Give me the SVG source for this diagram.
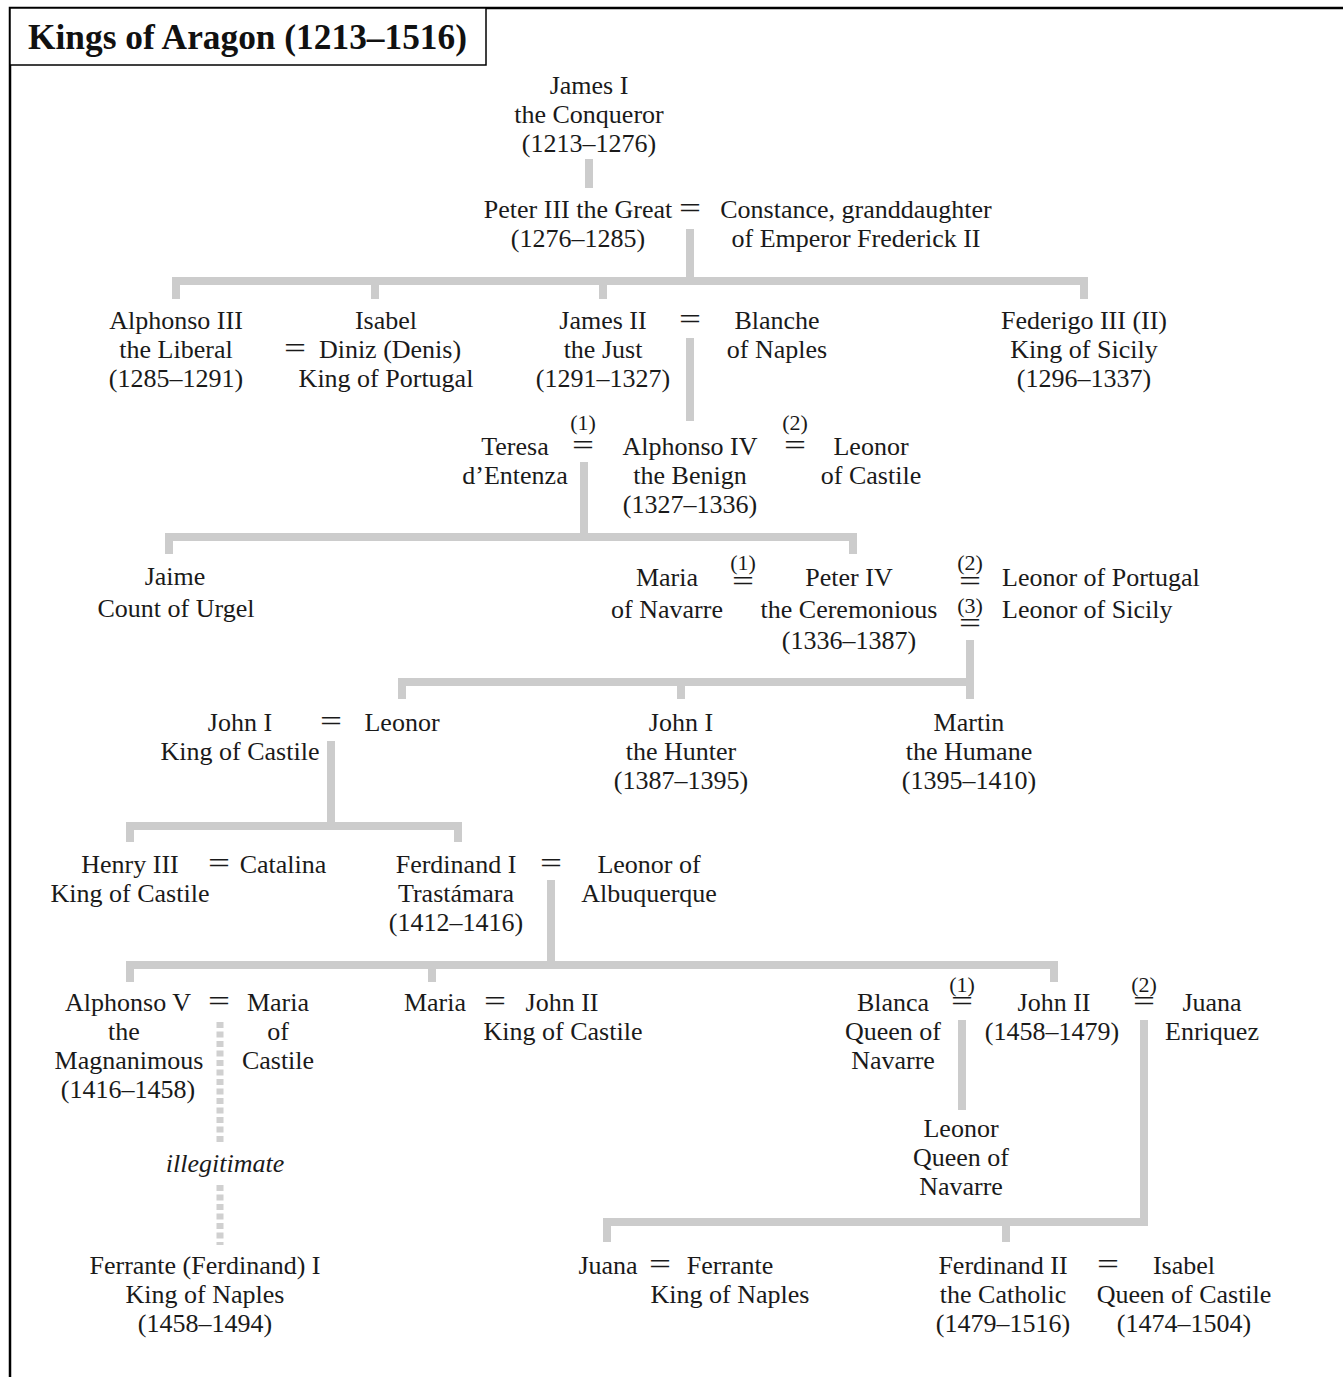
<svg xmlns="http://www.w3.org/2000/svg" width="1343" height="1377" viewBox="0 0 1343 1377">
<style>
.t{font-family:"Liberation Serif",serif;font-size:26px;fill:#1a1a1a;text-anchor:middle}
.l{text-anchor:start}
.eq{font-family:"Liberation Serif",serif;font-size:30px;fill:#1a1a1a;text-anchor:middle}
.n{font-family:"Liberation Serif",serif;font-size:22px;fill:#1a1a1a;text-anchor:middle}
.it{font-style:italic}
.c{fill:none;stroke:#cccccc;stroke-width:8;stroke-linecap:butt;stroke-linejoin:miter}
.d{fill:none;stroke:#d0d0d0;stroke-width:7;stroke-dasharray:6 3.5}
</style>
<rect width="1343" height="1377" fill="#ffffff"/>
<g id="frame">
<path d="M10 1377 V8 H1343" fill="none" stroke="#000" stroke-width="2.5"/>
<rect x="10" y="8" width="476" height="57" fill="#fff" stroke="#000" stroke-width="1.5"/>
<text x="28" y="49" font-family="Liberation Serif,serif" font-size="35" font-weight="bold" fill="#111" textLength="439" lengthAdjust="spacingAndGlyphs">Kings of Aragon (1213–1516)</text>
</g>
<g id="connectors">
<path class="c" d="M589 159 V188"/>
<path class="c" d="M690 229 V281"/>
<path class="c" d="M176 299 V281 H1084 V299"/>
<path class="c" d="M375 281 V299"/>
<path class="c" d="M603 281 V299"/>
<path class="c" d="M690 338 V421"/>
<path class="c" d="M584 462 V537"/>
<path class="c" d="M169 554 V537 H853 V554"/>
<path class="c" d="M970 640 V699"/>
<path class="c" d="M402 699 V682 H970"/>
<path class="c" d="M681 682 V699"/>
<path class="c" d="M331 741 V826"/>
<path class="c" d="M130 842 V826 H458 V842"/>
<path class="c" d="M551 880 V965"/>
<path class="c" d="M130 982 V965 H1054 V982"/>
<path class="c" d="M432 965 V982"/>
<path class="c" d="M962 1020 V1110"/>
<path class="c" d="M1144 1020 V1222 H607 V1242"/>
<path class="c" d="M1006 1222 V1242"/>
<path class="d" d="M220 1022 V1143"/>
<path class="d" d="M220 1185 V1245"/>
</g>
<g id="james1">
<text class="t" x="589" y="94">James I</text>
<text class="t" x="589" y="123">the Conqueror</text>
<text class="t" x="589" y="152">(1213–1276)</text>
</g>
<g id="peter3">
<text class="t" x="578" y="218">Peter III the Great</text>
<text class="t" x="578" y="247">(1276–1285)</text>
<text class="eq" x="690" y="218" textLength="22" lengthAdjust="spacingAndGlyphs">=</text>
</g>
<g id="constance">
<text class="t" x="856" y="218">Constance, granddaughter</text>
<text class="t" x="856" y="247">of Emperor Frederick II</text>
</g>
<g id="alphonso3">
<text class="t" x="176" y="329">Alphonso III</text>
<text class="t" x="176" y="358">the Liberal</text>
<text class="t" x="176" y="387">(1285–1291)</text>
</g>
<g id="isabel">
<text class="t" x="386" y="329">Isabel</text>
<text class="eq" x="295" y="358" textLength="22" lengthAdjust="spacingAndGlyphs">=</text>
<text class="t" x="390" y="358">Diniz (Denis)</text>
<text class="t" x="386" y="387">King of Portugal</text>
</g>
<g id="james2">
<text class="t" x="603" y="329">James II</text>
<text class="t" x="603" y="358">the Just</text>
<text class="t" x="603" y="387">(1291–1327)</text>
<text class="eq" x="690" y="329" textLength="22" lengthAdjust="spacingAndGlyphs">=</text>
</g>
<g id="blanche">
<text class="t" x="777" y="329">Blanche</text>
<text class="t" x="777" y="358">of Naples</text>
</g>
<g id="federigo">
<text class="t" x="1084" y="329">Federigo III (II)</text>
<text class="t" x="1084" y="358">King of Sicily</text>
<text class="t" x="1084" y="387">(1296–1337)</text>
</g>
<g id="teresa">
<text class="t" x="515" y="455">Teresa</text>
<text class="t" x="515" y="484">d’Entenza</text>
<text class="n" x="583" y="430">(1)<tspan class="eq" x="583" y="455" textLength="22" lengthAdjust="spacingAndGlyphs">=</tspan></text>
</g>
<g id="alphonso4">
<text class="t" x="690" y="455">Alphonso IV</text>
<text class="t" x="690" y="484">the Benign</text>
<text class="t" x="690" y="513">(1327–1336)</text>
<text class="n" x="795" y="430">(2)<tspan class="eq" x="795" y="455" textLength="22" lengthAdjust="spacingAndGlyphs">=</tspan></text>
</g>
<g id="leonor-castile">
<text class="t" x="871" y="455">Leonor</text>
<text class="t" x="871" y="484">of Castile</text>
</g>
<g id="jaime">
<text class="t" x="175" y="585">Jaime</text>
<text class="t" x="176" y="617">Count of Urgel</text>
</g>
<g id="maria-navarre">
<text class="t" x="667" y="586">Maria</text>
<text class="t" x="667" y="618">of Navarre</text>
<text class="n" x="743" y="570">(1)<tspan class="eq" x="743" y="591" textLength="22" lengthAdjust="spacingAndGlyphs">=</tspan></text>
</g>
<g id="peter4">
<text class="t" x="849" y="586">Peter IV</text>
<text class="t" x="849" y="618">the Ceremonious</text>
<text class="t" x="849" y="649">(1336–1387)</text>
<text class="n" x="970" y="570">(2)<tspan class="eq" x="970" y="591" textLength="22" lengthAdjust="spacingAndGlyphs">=</tspan><tspan x="970" y="613">(3)</tspan><tspan class="eq" x="970" y="633" textLength="22" lengthAdjust="spacingAndGlyphs">=</tspan></text>
</g>
<g id="leonor-portugal-sicily">
<text class="t l" x="1002" y="586">Leonor of Portugal</text>
<text class="t l" x="1002" y="618">Leonor of Sicily</text>
</g>
<g id="john1-castile">
<text class="t" x="240" y="731">John I</text>
<text class="t" x="240" y="760">King of Castile</text>
<text class="eq" x="331" y="731" textLength="22" lengthAdjust="spacingAndGlyphs">=</text>
</g>
<g id="leonor">
<text class="t" x="402" y="731">Leonor</text>
</g>
<g id="john1-hunter">
<text class="t" x="681" y="731">John I</text>
<text class="t" x="681" y="760">the Hunter</text>
<text class="t" x="681" y="789">(1387–1395)</text>
</g>
<g id="martin">
<text class="t" x="969" y="731">Martin</text>
<text class="t" x="969" y="760">the Humane</text>
<text class="t" x="969" y="789">(1395–1410)</text>
</g>
<g id="henry3">
<text class="t" x="130" y="873">Henry III</text>
<text class="t" x="130" y="902">King of Castile</text>
<text class="eq" x="219" y="873" textLength="22" lengthAdjust="spacingAndGlyphs">=</text>
</g>
<g id="catalina">
<text class="t" x="283" y="873">Catalina</text>
</g>
<g id="ferdinand1">
<text class="t" x="456" y="873">Ferdinand I</text>
<text class="t" x="456" y="902">Trastámara</text>
<text class="t" x="456" y="931">(1412–1416)</text>
<text class="eq" x="551" y="873" textLength="22" lengthAdjust="spacingAndGlyphs">=</text>
</g>
<g id="leonor-albuquerque">
<text class="t" x="649" y="873">Leonor of</text>
<text class="t" x="649" y="902">Albuquerque</text>
</g>
<g id="alphonso5">
<text class="t" x="128" y="1011">Alphonso V</text>
<text class="t" x="124" y="1040">the</text>
<text class="t" x="129" y="1069">Magnanimous</text>
<text class="t" x="128" y="1098">(1416–1458)</text>
<text class="eq" x="219" y="1011" textLength="22" lengthAdjust="spacingAndGlyphs">=</text>
</g>
<g id="maria-castile">
<text class="t" x="278" y="1011">Maria</text>
<text class="t" x="278" y="1040">of</text>
<text class="t" x="278" y="1069">Castile</text>
</g>
<g id="illegitimate-label">
<text class="t it" x="225" y="1172">illegitimate</text>
</g>
<g id="maria">
<text class="t" x="435" y="1011">Maria</text>
<text class="eq" x="495" y="1011" textLength="22" lengthAdjust="spacingAndGlyphs">=</text>
</g>
<g id="john2-castile">
<text class="t" x="562" y="1011">John II</text>
<text class="t" x="563" y="1040">King of Castile</text>
</g>
<g id="blanca">
<text class="t" x="893" y="1011">Blanca</text>
<text class="t" x="893" y="1040">Queen of</text>
<text class="t" x="893" y="1069">Navarre</text>
<text class="n" x="962" y="992">(1)<tspan class="eq" x="962" y="1011" textLength="22" lengthAdjust="spacingAndGlyphs">=</tspan></text>
</g>
<g id="john2">
<text class="t" x="1054" y="1011">John II</text>
<text class="t" x="1052" y="1040">(1458–1479)</text>
<text class="n" x="1144" y="992">(2)<tspan class="eq" x="1144" y="1011" textLength="22" lengthAdjust="spacingAndGlyphs">=</tspan></text>
</g>
<g id="juana-enriquez">
<text class="t" x="1212" y="1011">Juana</text>
<text class="t" x="1212" y="1040">Enriquez</text>
</g>
<g id="leonor-navarre">
<text class="t" x="961" y="1137">Leonor</text>
<text class="t" x="961" y="1166">Queen of</text>
<text class="t" x="961" y="1195">Navarre</text>
</g>
<g id="ferrante1">
<text class="t" x="205" y="1274">Ferrante (Ferdinand) I</text>
<text class="t" x="205" y="1303">King of Naples</text>
<text class="t" x="205" y="1332">(1458–1494)</text>
</g>
<g id="juana">
<text class="t" x="608" y="1274">Juana</text>
<text class="eq" x="660" y="1274" textLength="22" lengthAdjust="spacingAndGlyphs">=</text>
</g>
<g id="ferrante">
<text class="t" x="730" y="1274">Ferrante</text>
<text class="t" x="730" y="1303">King of Naples</text>
</g>
<g id="ferdinand2">
<text class="t" x="1003" y="1274">Ferdinand II</text>
<text class="t" x="1003" y="1303">the Catholic</text>
<text class="t" x="1003" y="1332">(1479–1516)</text>
<text class="eq" x="1108" y="1274" textLength="22" lengthAdjust="spacingAndGlyphs">=</text>
</g>
<g id="isabel-castile">
<text class="t" x="1184" y="1274">Isabel</text>
<text class="t" x="1184" y="1303">Queen of Castile</text>
<text class="t" x="1184" y="1332">(1474–1504)</text>
</g>
</svg>
